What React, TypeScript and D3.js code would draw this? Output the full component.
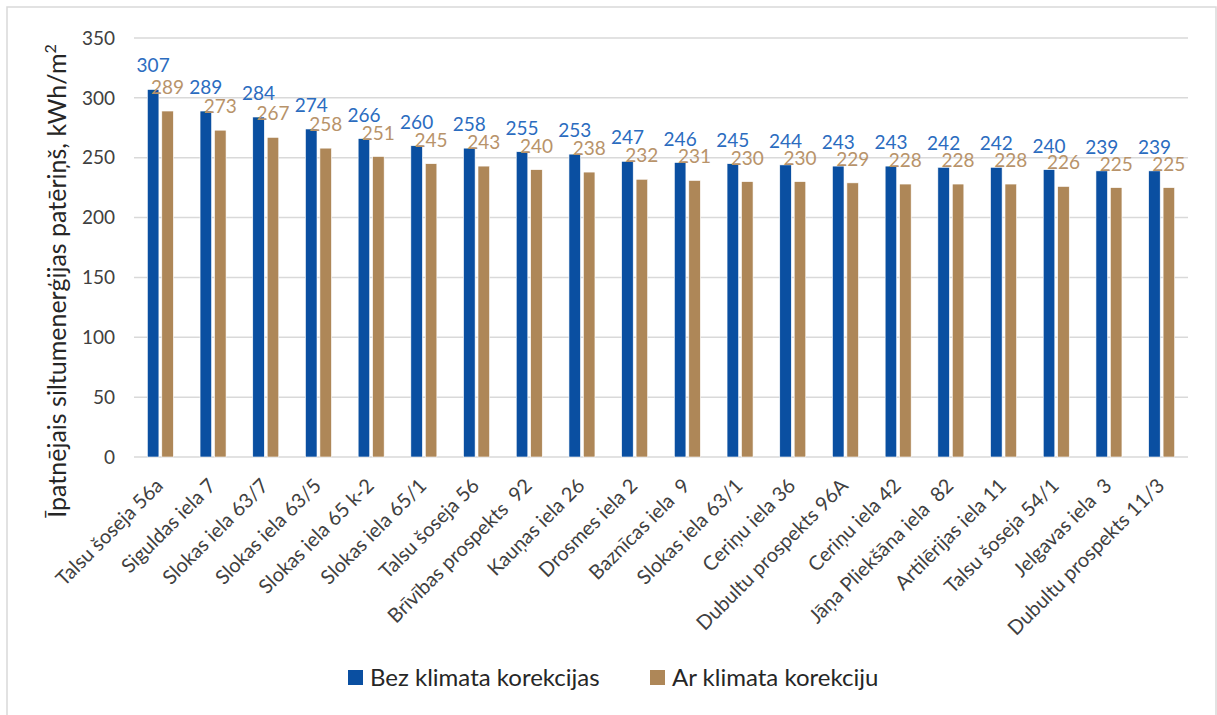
import React from "react";
import * as d3 from "d3";

const categories = [
  "Talsu šoseja 56a",
  "Siguldas iela 7",
  "Slokas iela 63/7",
  "Slokas iela 63/5",
  "Slokas iela 65 k-2",
  "Slokas iela 65/1",
  "Talsu šoseja 56",
  "Brīvības prospekts  92",
  "Kauņas iela 26",
  "Drosmes iela 2",
  "Baznīcas iela  9",
  "Slokas iela 63/1",
  "Ceriņu iela 36",
  "Dubultu prospekts 96A",
  "Ceriņu iela 42",
  "Jāņa Pliekšāna iela  82",
  "Artilērijas iela 11",
  "Talsu šoseja 54/1",
  "Jelgavas iela  3",
  "Dubultu prospekts 11/3",
];
const bezKorekcijas = [307, 289, 284, 274, 266, 260, 258, 255, 253, 247, 246, 245, 244, 243, 243, 242, 242, 240, 239, 239];
const arKorekciju = [289, 273, 267, 258, 251, 245, 243, 240, 238, 232, 231, 230, 230, 229, 228, 228, 228, 226, 225, 225];
const seriesNames = ["Bez klimata korekcijas", "Ar klimata korekciju"];
const yTicks = [0, 50, 100, 150, 200, 250, 300, 350];

const W = 1217;
const H = 715;
const FONT = "Lato, 'Open Sans', sans-serif";
const barColors = ["#0A4FA1", "#AE8758"];
const labelColors = ["#2B6CBF", "#B8936A"];

export default function App() {
  const left = 134, right = 1188, top = 38, bottom = 457;
  const x = d3.scaleBand<string>().domain(categories).range([left, right]).paddingInner(0).paddingOuter(0);
  const y = d3.scaleLinear().domain([0, 350]).range([bottom, top]);
  const pairW = 26;
  const x1 = d3.scaleBand<number>().domain([0, 1]).range([0, pairW]).paddingInner(0.2);
  const series = [bezKorekcijas, arKorekciju];

  return (
    <svg width={W} height={H} style={{ position: "absolute", left: 0, top: 0, background: "#fff" }} fontFamily={FONT}>
      <rect x={7} y={7} width={1209} height={H + 20} fill="#fff" stroke="#d9d9d9" strokeWidth={1.5} />
      {yTicks.map((t) => (
        <g key={t}>
          <line x1={left} x2={right} y1={y(t)} y2={y(t)} stroke="#d9d9d9" strokeWidth={1.5} />
          <text x={115} y={y(t)} dy="0.35em" textAnchor="end" fontSize={19} fill="#404040">{t}</text>
        </g>
      ))}
      {categories.map((c, i) => {
        const cx = (x(c) as number) + x.bandwidth() / 2;
        const start = cx - pairW / 2;
        return (
          <g key={c}>
            {series.map((s, k) => {
              const bx = start + (x1(k) as number);
              const bw = x1.bandwidth();
              return (
                <g key={k}>
                  <rect x={bx} y={y(s[i])} width={bw} height={y(0) - y(s[i])} fill={barColors[k]} stroke="#fff" strokeWidth={0.6} />
                  <text x={bx + bw / 2} y={y(s[i]) - 17} textAnchor="middle" fontSize={19} fill={labelColors[k]}>{s[i]}</text>
                </g>
              );
            })}
            <text
              transform={`translate(${cx - 1},${482}) rotate(-45)`}
              textAnchor="end"
              dy="0.35em"
              fontSize={20}
              fill="#404040"
              style={{ whiteSpace: "pre" }}
            >{c}</text>
          </g>
        );
      })}
      <text transform={`translate(66,281) rotate(-90)`} textAnchor="middle" fontSize={25} fill="#262626">
        Īpatnējais siltumenerģijas patēriņš, kWh/m<tspan dy="-10" fontSize={16}>2</tspan>
      </text>
      <g transform="translate(348,670)">
        {seriesNames.map((n, k) => (
          <g key={n} transform={`translate(${k * 302},0)`}>
            <rect x={0} y={0} width={15} height={15} fill={barColors[k]} />
            <text x={22} y={7.5} dy="0.35em" fontSize={24} fill="#262626">{n}</text>
          </g>
        ))}
      </g>
    </svg>
  );
}
